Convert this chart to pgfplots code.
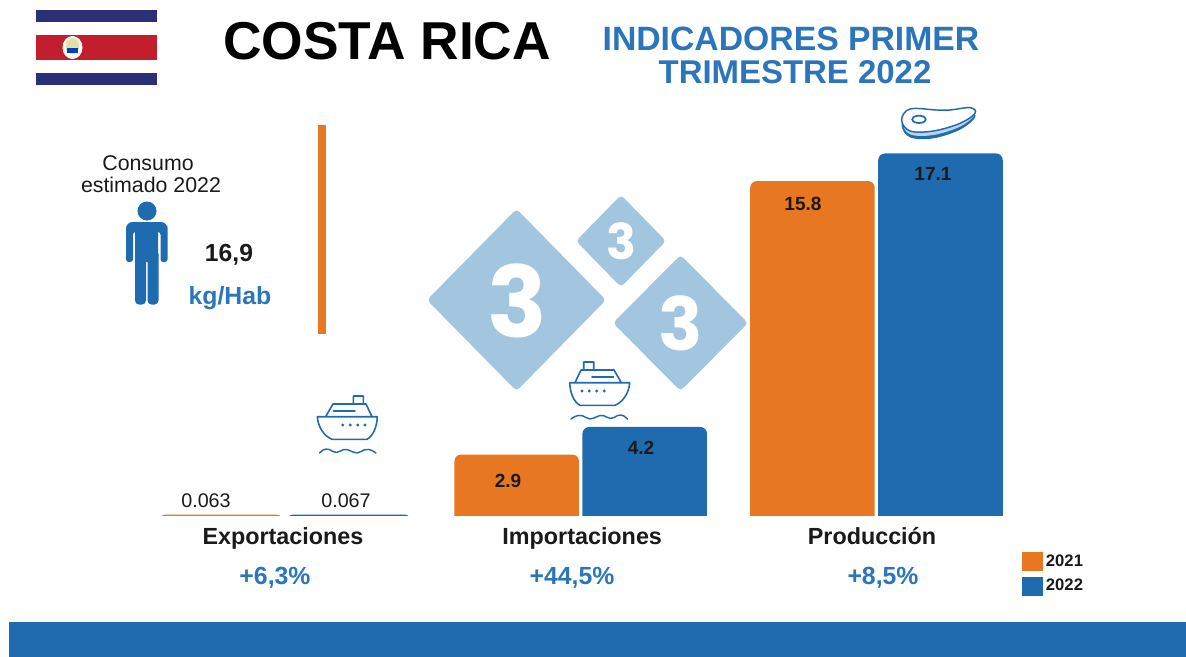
\documentclass[border=0pt]{standalone}
\usepackage{pgfplots}
\pgfplotsset{compat=1.18}
\usepackage{fontspec}
\setmainfont{Liberation Sans}
\newfontfamily\pop{Poppins}
\definecolor{orangeb}{HTML}{E87722}
\definecolor{blueb}{HTML}{1F6BB0}
\definecolor{bluet}{HTML}{2A75BB}
\definecolor{diam}{HTML}{A3C6E0}
\definecolor{flagb}{HTML}{2B2F78}
\definecolor{flagr}{HTML}{C21E2D}
\definecolor{dark}{HTML}{1A1A1A}
\newcommand\fs[1]{\fontsize{#1}{#1}\selectfont}
\newcommand\shipdraw{%
  \draw[blueb,line width=1.2pt,line join=round,line cap=round]
    (317.3,416.7)--(377.3,416.7) (317.3,416.7) .. controls (318,427) and (324,436) .. (332,439.3)--(367,439.3) .. controls (373,436) and (377,427) .. (377.3,416.7)
    (326,416) -- (333,404) -- (366,404) -- (371.7,416)
    (353.3,403.5)--(353.3,396)--(363.3,396)--(363.3,403.5)
    (333.5,411)--(355,411);
  \foreach \xx in {342.7,350.3,357.7,365}{\fill[blueb] (\xx,425) circle (1.6);}
  \draw[blueb,line width=1.1pt,line cap=round]
    (319.5,453) .. controls (324,448) and (328,448) .. (333,451.5) .. controls (338,455) and (342,448) .. (347,449.5) .. controls (352,451) and (356,455) .. (361,451.5) .. controls (366,448) and (371,449) .. (376,453);
}
\begin{document}
\begin{tikzpicture}
\path[use as bounding box] (0,0) rectangle (889.5pt,-492.75pt);
\begin{scope}[x=0.75pt,y=-0.75pt]
% footer
\fill[blueb] (9,622) rectangle (1186,657);
% flag
\fill[flagb] (36,10) rectangle (157,22);
\fill[flagr] (36,35) rectangle (157,60);
\fill[flagb] (36,73) rectangle (157,85);
\fill[white] (72.5,47.5) ellipse (10 and 11.5);
\fill[black!30!yellow!40!white] (72.5,46) ellipse (7 and 8);
\fill[blue!50!teal] (67,48) rectangle (78,53);
% titles
\node[font=\bfseries\fs{40}] at (387,41) {COSTA RICA};
\node[font=\bfseries\fs{25.3},text=bluet] at (791,39) {INDICADORES PRIMER};
\node[font=\bfseries\fs{24.7},text=bluet] at (795,72) {TRIMESTRE 2022};
% consumption block
\node[font=\fs{16},text=dark] at (148,163) {Consumo};
\node[font=\fs{16},text=dark] at (151,185) {estimado 2022};
\fill[blueb] (147,211) circle (9.5);
\fill[blueb,rounded corners=3pt] (135,226) rectangle (158,262);
\fill[blueb,rounded corners=3pt] (135,250) rectangle (146,304.5);
\fill[blueb,rounded corners=3pt] (147.5,250) rectangle (158.5,304.5);
\fill[blueb,rounded corners=2pt] (126,262) -- (126,230) [rounded corners=5pt] -- (126,222) -- (167.5,222) -- (167.5,232) [rounded corners=2pt] -- (167.5,262) -- (160.5,262) -- (160.5,232) -- (133,232) -- (133,262) -- cycle;
\node[font=\bfseries\fs{18.5},text=dark] at (229,255) {16,9};
\node[font=\bfseries\fs{18.6},text=bluet] at (230,298) {kg/Hab};
\fill[orangeb] (318,125) rectangle (326,334);
% diamonds
\fill[diam,rounded corners=3pt] (427,300)--(516.5,209)--(606,300)--(516.5,391)--cycle;
\fill[diam,rounded corners=3pt] (613,323)--(680.5,255)--(748,323)--(680.5,391)--cycle;
\fill[diam,rounded corners=3pt] (576,241)--(621,195)--(666,241)--(621,287)--cycle;
\node[text=white,font=\pop\bfseries\fs{74}] at (517,301) {3};
\node[text=white,font=\pop\bfseries\fs{55}] at (681,323) {3};
\node[text=white,font=\pop\bfseries\fs{37}] at (621,241) {3};
\end{scope}
% the chart
\begin{axis}[
  at={(102.825pt,-402.9pt)},anchor=south west,
  scale only axis,width=665.44pt,height=327.9pt,
  xmin=-0.5,xmax=2.5,ymin=0,ymax=20.623,
  y filter/.expression={y+1},
  axis on top,clip=false,
  ybar=2.6pt,bar width=93.4pt,
  axis line style={draw=none},major tick length=0pt,
  ytick=\empty,
  xtick={-0.007,1.005,1.985},
  xticklabels={Exportaciones,Importaciones,Producción},
  xticklabel style={font=\bfseries\fs{17.5},text=dark,yshift=11pt},
  legend style={at={(0.9973,-0.0338)},anchor=north west,draw=none,fill=none,
    font=\bfseries\fs{12.5},text=dark,inner sep=0pt,outer sep=0pt,
    row sep=4.3pt,/tikz/every even column/.append style={column sep=3pt}},
  legend image code/.code={\fill[#1,sharp corners] (0cm,-7pt) rectangle (16pt,7pt);},
]
\addplot[draw=none,fill=orangeb,rounded corners=5pt] coordinates {(0,0.063) (1,2.9) (2,15.8)};
\addplot[draw=none,fill=blueb,rounded corners=5pt] coordinates {(0,0.067) (1,4.2) (2,17.1)};
\fill[white] (axis cs:-0.5,-0.2) rectangle (axis cs:2.5,1);
\legend{2021,2022}
\end{axis}
\begin{scope}[x=0.75pt,y=-0.75pt]
% value labels
\node[font=\fs{14.8},text=dark] at (206,501) {0.063};
\node[font=\fs{14.8},text=dark] at (346,501) {0.067};
\node[font=\bfseries\fs{14.3},text=dark] at (508,481) {2.9};
\node[font=\bfseries\fs{14.3},text=dark] at (641,448) {4.2};
\node[font=\bfseries\fs{14.3},text=dark] at (803,204) {15.8};
\node[font=\bfseries\fs{14.3},text=dark] at (933,174) {17.1};
% change labels
\node[font=\bfseries\fs{18.6},text=bluet] at (275,578) {+6,3\%};
\node[font=\bfseries\fs{18.6},text=bluet] at (572,578) {+44,5\%};
\node[font=\bfseries\fs{18.6},text=bluet] at (883,578) {+8,5\%};
% ships
\shipdraw
\begin{scope}[shift={(947,-34)},xscale=-1]
\shipdraw
\end{scope}
% steak
\begin{scope}[shift={(860,95)},x=0.25pt,y=-0.25pt]
\fill[blueb] plot[smooth cycle,tension=0.6] coordinates {(125,90) (150,56) (230,60) (270,60) (330,52) (345,68) (300,104) (220,130) (150,127)};
\fill[white!70!blueb] plot[smooth cycle,tension=0.6] coordinates {(128,82) (150,52) (230,55) (270,55) (330,46) (342,62) (300,95) (220,120) (150,118)};
\filldraw[fill=white,draw=blueb,line width=1.1pt] plot[smooth cycle,tension=0.6] coordinates {(125,75) (150,42) (230,45) (270,45) (330,38) (345,55) (300,85) (220,108) (150,108)};
\draw[blueb,line width=1.3pt] (177,73) ellipse (20 and 11);
\end{scope}
\end{scope}
\end{tikzpicture}
\end{document}
